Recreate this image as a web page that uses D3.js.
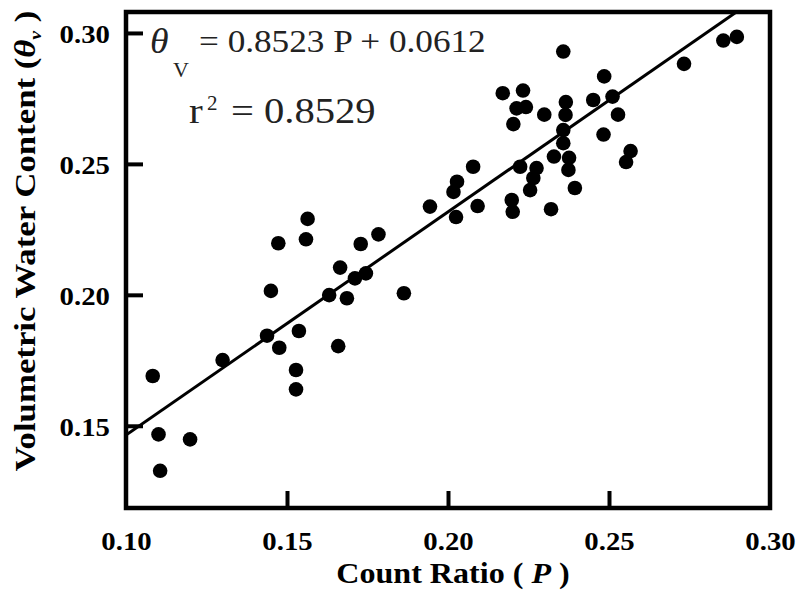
<!DOCTYPE html>
<html><head><meta charset="utf-8">
<script src="https://cdn.jsdelivr.net/npm/d3@7"></script>
<style>html,body{margin:0;padding:0;background:#fff;} svg{display:block}</style>
</head><body>
<svg id="chart" width="801" height="593"></svg>
<script>
// ---- data ----
const countRatio = [0.1083,0.1101,0.1199,0.1106,0.1300,0.1438,0.1476,0.1537,0.1528,0.1528,
  0.1564,0.1473,0.1559,0.1450,0.1665,0.1631,0.1686,0.1711,0.1745,0.1729,
  0.1784,0.1863,0.1659,0.1944,0.2078,0.2028,0.2017,0.2025,0.2092,0.2198,
  0.2201,0.2224,0.2275,0.2265,0.2255,0.2320,0.2329,0.2376,0.2374,0.2394,
  0.2358,0.2485,0.2170,0.2233,0.2213,0.2242,0.2203,0.2299,0.2366,0.2365,
  0.2358,0.2358,0.2451,0.2511,0.2528,0.2483,0.2567,0.2553,0.2855,0.2897,0.2733];
const waterContent = [0.1690,0.1467,0.1448,0.1328,0.1751,0.1844,0.1798,0.1862,0.1713,0.1639,
  0.2290,0.2197,0.2212,0.2015,0.2104,0.1999,0.1987,0.2063,0.2082,0.2194,
  0.2231,0.2006,0.1804,0.2337,0.2489,0.2432,0.2393,0.2297,0.2339,0.2362,
  0.2317,0.2489,0.2484,0.2446,0.2400,0.2327,0.2528,0.2523,0.2477,0.2408,
  0.2929,0.2834,0.2770,0.2780,0.2712,0.2717,0.2652,0.2688,0.2736,0.2687,
  0.2629,0.2579,0.2744,0.2757,0.2688,0.2612,0.2549,0.2507,0.2971,0.2985,0.2882];
const xTickValues = [0.10, 0.15, 0.20, 0.25, 0.30];
const yTickValues = [0.15, 0.20, 0.25, 0.30];
const fitSlope = 0.8523, fitIntercept = 0.0612, fitR2 = 0.8529;

// ---- layout ----
const svg = d3.select('#chart');
const pL = 126, pR = 770, pT = 12, pB = 508;
const x = d3.scaleLinear().domain([0.10, 0.30]).range([pL, pR]);
const y = d3.scaleLinear().domain([0.1186, 0.3080]).range([pB, pT]);
const serif = "'Liberation Serif','Times New Roman',Times,serif";

svg.append('rect').attr('width', 801).attr('height', 593).attr('fill', '#fff');
svg.append('defs').append('clipPath').attr('id', 'plotclip')
  .append('rect').attr('x', pL).attr('y', pT).attr('width', pR - pL).attr('height', pB - pT);

// x axis
const xAxis = d3.axisBottom(x).tickValues(xTickValues).tickFormat(d3.format('.2f'))
  .tickSizeInner(-17).tickSizeOuter(0).tickPadding(24);
const gx = svg.append('g').attr('transform', `translate(0,${pB})`).call(xAxis);
gx.select('.domain').remove();
gx.selectAll('.tick line').attr('stroke', '#000').attr('stroke-width', 4);
gx.selectAll('.tick').filter(d => d <= 0.10 || d >= 0.30).select('line').remove();
gx.selectAll('.tick text').attr('font-family', serif).attr('font-weight', 'bold')
  .attr('font-size', 25).attr('fill', '#000').attr('transform', 'scale(1.15,1)');

// y axis
const yAxis = d3.axisLeft(y).tickValues(yTickValues).tickFormat(d3.format('.2f'))
  .tickSizeInner(-17).tickSizeOuter(0).tickPadding(14);
const gy = svg.append('g').attr('transform', `translate(${pL},0)`).call(yAxis);
gy.select('.domain').remove();
gy.selectAll('.tick line').attr('stroke', '#000').attr('stroke-width', 4);
gy.selectAll('.tick text').attr('font-family', serif).attr('font-weight', 'bold')
  .attr('font-size', 25).attr('fill', '#000').attr('dy', '0.4em').attr('transform', 'scale(1.15,1)');

// regression line
const fitLine = d3.line().x(d => x(d)).y(d => y(fitSlope * d + fitIntercept));
svg.append('path').attr('clip-path', 'url(#plotclip)')
  .attr('d', fitLine(x.domain())).attr('fill', 'none').attr('stroke', '#000').attr('stroke-width', 3);

// points
svg.append('g').selectAll('circle').data(countRatio).join('circle')
  .attr('cx', d => x(d)).attr('cy', (d, i) => y(waterContent[i])).attr('r', 7.3).attr('fill', '#000');

// frame
svg.append('rect').attr('x', pL).attr('y', pT).attr('width', pR - pL).attr('height', pB - pT)
  .attr('fill', 'none').attr('stroke', '#000').attr('stroke-width', 4.5);

// equation
svg.append('text').attr('transform', 'translate(150,53) scale(1.05,1)')
  .attr('font-family', serif).attr('font-style', 'italic').attr('font-size', 36).attr('fill', '#222').text('θ');
svg.append('text').attr('transform', 'translate(173,77)')
  .attr('font-family', serif).attr('font-size', 22).attr('fill', '#222').text('V');
svg.append('text').attr('transform', 'translate(199,52) scale(1.1,1)')
  .attr('font-family', serif).attr('font-size', 32).attr('fill', '#222')
  .text(`= ${fitSlope} P + ${fitIntercept}`);
svg.append('text').attr('transform', 'translate(189,123) scale(1.18,1)')
  .attr('font-family', serif).attr('font-size', 35).attr('fill', '#222').text('r');
svg.append('text').attr('transform', 'translate(207,110)')
  .attr('font-family', serif).attr('font-size', 21).attr('fill', '#222').text('2');
svg.append('text').attr('transform', 'translate(231,123) scale(1.16,1)')
  .attr('font-family', serif).attr('font-size', 35).attr('fill', '#222').text(`= ${fitR2}`);

// axis titles
const xt = svg.append('text').attr('transform', 'translate(453,583) scale(1.07,1)')
  .attr('text-anchor', 'middle').attr('font-family', serif).attr('font-weight', 'bold')
  .attr('font-size', 30).attr('fill', '#000');
xt.append('tspan').text('Count Ratio ( ');
xt.append('tspan').attr('font-style', 'italic').text('P');
xt.append('tspan').text(' )');

const yt = svg.append('text').attr('transform', 'translate(35,241) rotate(-90) scale(1.16,1)')
  .attr('text-anchor', 'middle').attr('font-family', serif).attr('font-weight', 'bold')
  .attr('font-size', 30).attr('fill', '#000');
yt.append('tspan').text('Volumetric Water Content (');
yt.append('tspan').attr('font-style', 'italic').text('θ');
yt.append('tspan').attr('font-size', 17).attr('font-style', 'italic').attr('dy', 6).text('v');
yt.append('tspan').attr('dy', -6).text(' )');
</script>
</body></html>
